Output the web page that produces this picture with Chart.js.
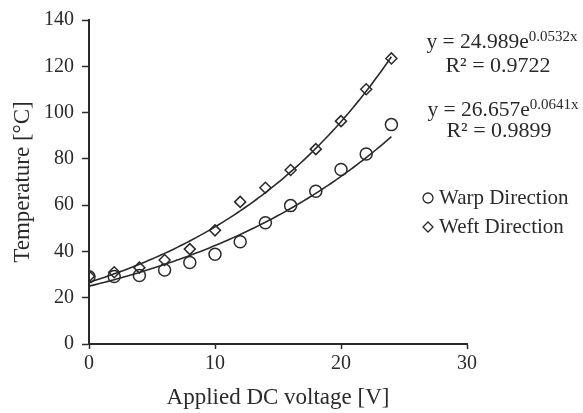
<!DOCTYPE html>
<html>
<head>
<meta charset="utf-8">
<script src="https://cdn.jsdelivr.net/npm/chart.js@4"></script>
<style>
  html, body { margin: 0; padding: 0; background: #fff; }
  #wrap { width: 583px; height: 413px; position: relative; }
</style>
</head>
<body>
<div id="wrap"><canvas id="c" width="583" height="413"></canvas></div>
<script>
// Measured surface temperature against applied DC voltage
const voltage  = [0, 2, 4, 6, 8, 10, 12, 14, 16, 18, 20, 22, 24];
const warpTemp = [29.1, 29.2, 29.6, 32.0, 35.2, 38.8, 44.2, 52.4, 59.8, 66.0, 75.4, 82.1, 94.8];
const weftTemp = [29.3, 31.0, 33.0, 36.3, 41.0, 49.1, 61.4, 67.5, 75.2, 84.2, 96.3, 110.1, 123.4];

// Exponential trend lines y = a·e^(b·x), coefficients as printed
const warpFitA = 24.989, warpFitB = 0.0532, warpR2 = '0.9722';
const weftFitA = 26.657, weftFitB = 0.0641, weftR2 = '0.9899';

const seriesLabels = ['Warp Direction', 'Weft Direction'];
const xTicks = [0, 10, 20, 30];
const yTicks = [0, 20, 40, 60, 80, 100, 120, 140];

const ink = '#2a2a2a';
const serif = '"Liberation Serif", "Times New Roman", serif';

function trend(a, b) {
  const pts = [];
  const x0 = voltage[0], x1 = voltage[voltage.length - 1];
  for (let i = 0; i <= 96; i++) {
    const x = x0 + (x1 - x0) * i / 96;
    pts.push({ x, y: a * Math.exp(b * x) });
  }
  return pts;
}
const toPts = (ys) => voltage.map((x, i) => ({ x, y: ys[i] }));

// Equations and legend drawn in the right-hand margin
const sidePanel = {
  id: 'sidePanel',
  afterDraw(chart) {
    const ctx = chart.ctx;
    ctx.save();
    ctx.fillStyle = ink;
    ctx.textBaseline = 'middle';

    function equation(a, b, cx, cy) {
      const base = 'y = ' + a.toFixed(3) + 'e';
      const sup = b.toFixed(4) + 'x';
      ctx.font = '21.5px ' + serif;
      const wb = ctx.measureText(base).width;
      ctx.font = '15px ' + serif;
      const ws = ctx.measureText(sup).width;
      const x0 = cx - (wb + ws) / 2;
      ctx.textAlign = 'left';
      ctx.font = '21.5px ' + serif;
      ctx.fillText(base, x0, cy);
      ctx.font = '15px ' + serif;
      ctx.fillText(sup, x0 + wb, cy - 5);
    }
    function centered(t, cx, cy) {
      ctx.font = '22px ' + serif;
      ctx.textAlign = 'center';
      ctx.fillText(t, cx, cy);
    }

    equation(warpFitA, warpFitB, 502, 42);
    centered('R\u00B2 = ' + warpR2, 498, 66);
    equation(weftFitA, weftFitB, 503, 110);
    centered('R\u00B2 = ' + weftR2, 499, 131);

    // legend from the marker datasets
    const rows = [198, 227];
    const mx = 428;
    chart.data.datasets.slice(0, 2).forEach((ds, i) => {
      const y = rows[i];
      ctx.strokeStyle = ink;
      ctx.lineWidth = 1.3;
      ctx.beginPath();
      if (ds.pointStyle === 'circle') {
        ctx.arc(mx, y, 5, 0, Math.PI * 2);
      } else {
        ctx.moveTo(mx, y - 5); ctx.lineTo(mx + 5, y); ctx.lineTo(mx, y + 5); ctx.lineTo(mx - 5, y); ctx.closePath();
      }
      ctx.stroke();
      ctx.font = '21px ' + serif;
      ctx.textAlign = 'left';
      ctx.fillText(ds.label, 439, y);
    });
    ctx.restore();
  }
};

new Chart(document.getElementById('c'), {
  type: 'scatter',
  data: {
    datasets: [
      {
        label: seriesLabels[0],
        data: toPts(warpTemp),
        pointStyle: 'circle',
        radius: 6,
        borderColor: ink,
        backgroundColor: 'rgba(255,255,255,0)',
        borderWidth: 1.5,
        order: 2
      },
      {
        label: seriesLabels[1],
        data: toPts(weftTemp),
        pointStyle: 'rectRot',
        radius: 5.5,
        borderColor: ink,
        backgroundColor: 'rgba(255,255,255,0)',
        borderWidth: 1.5,
        order: 2
      },
      {
        label: 'warpTrend',
        data: trend(warpFitA, warpFitB),
        showLine: true,
        pointRadius: 0,
        borderColor: ink,
        borderWidth: 1.6,
        order: 1
      },
      {
        label: 'weftTrend',
        data: trend(weftFitA, weftFitB),
        showLine: true,
        pointRadius: 0,
        borderColor: ink,
        borderWidth: 1.6,
        order: 1
      }
    ]
  },
  options: {
    responsive: false,
    animation: false,
    events: [],
    layout: { padding: { left: 0, top: 17, right: 116, bottom: 0 } },
    plugins: { legend: { display: false }, tooltip: { enabled: false } },
    scales: {
      x: {
        type: 'linear',
        min: xTicks[0],
        max: xTicks[xTicks.length - 1],
        afterBuildTicks: (s) => { s.ticks = xTicks.map(v => ({ value: v })); },
        afterFit: (s) => { s.height = 69; },
        grid: { display: true, drawOnChartArea: false, drawTicks: true, tickLength: 5, color: ink, tickWidth: 1.5 },
        border: { display: true, color: ink, width: 2 },
        ticks: { color: ink, padding: 3, font: { family: serif, size: 20 } },
        title: { display: true, text: 'Applied DC voltage [V]', color: ink, padding: { top: 0, bottom: 1 }, font: { family: serif, size: 23 } }
      },
      y: {
        type: 'linear',
        min: yTicks[0],
        max: yTicks[yTicks.length - 1],
        afterBuildTicks: (s) => { s.ticks = yTicks.map(v => ({ value: v })); },
        afterFit: (s) => { s.width = 89; },
        grid: { display: true, drawOnChartArea: false, drawTicks: true, tickLength: 7, color: ink, tickWidth: 1.5 },
        border: { display: true, color: ink, width: 2 },
        ticks: { color: ink, padding: 8, font: { family: serif, size: 20 } },
        title: { display: true, text: 'Temperature [°C]', color: ink, padding: { top: 9, bottom: 0 }, font: { family: serif, size: 23 } }
      }
    }
  },
  plugins: [sidePanel]
});
</script>
</body>
</html>
